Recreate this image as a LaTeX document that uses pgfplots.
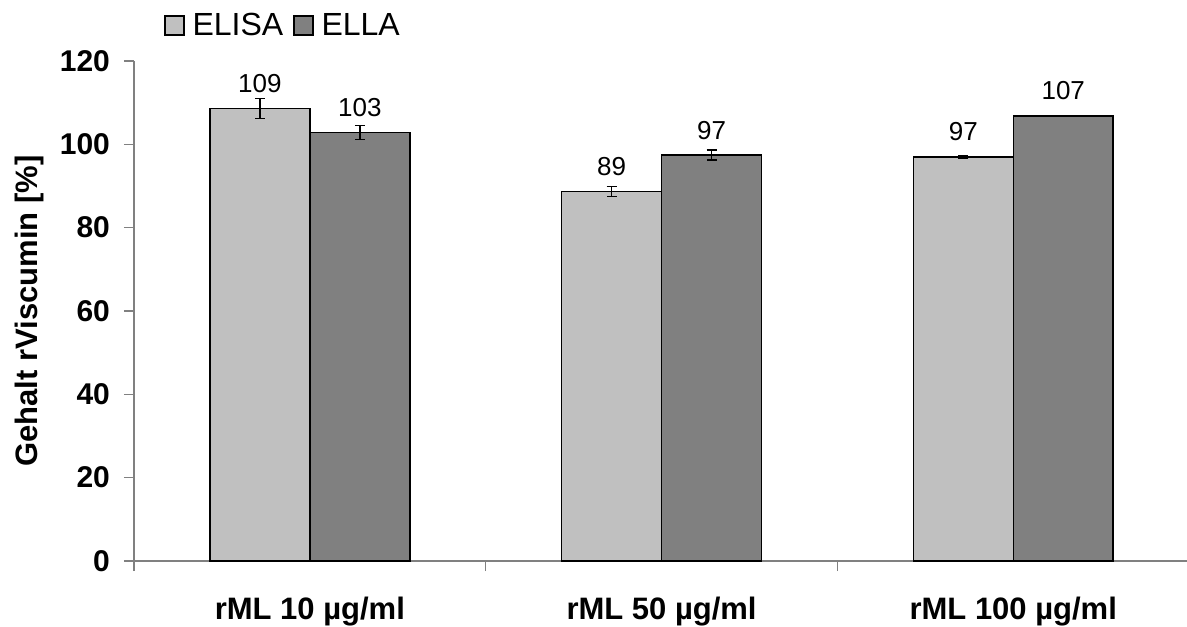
\documentclass[border=0pt]{standalone}
\usepackage{pgfplots}
\pgfplotsset{compat=1.18}
\usepackage{fontspec}
\setmainfont{Liberation Sans}
\definecolor{elisa}{HTML}{C0C0C0}
\definecolor{ella}{HTML}{808080}
\definecolor{axgray}{HTML}{808080}
\begin{document}
\begin{tikzpicture}
\begin{axis}[
  name=ax,
  scale only axis,
  width=526.5pt, height=250pt,
  xmin=-0.5, xmax=2.494,
  ymin=0, ymax=120,
  ybar, bar width=0.2843,
  axis lines=left,
  axis line style={-, draw=axgray, line width=0.6pt},
  tick style={draw=axgray, line width=0.6pt},
  tick align=outside,
  major tick length=5pt,
  ytick={0,20,...,120},
  xtick={-0.5,0.5,1.5},
  xticklabels={,,},
  extra x ticks={0,1,2},
  extra x tick labels={rML 10 µg/ml, rML 50 µg/ml, rML 100 µg/ml},
  extra x tick style={major tick length=0pt, xticklabel style={anchor=base, yshift=-29pt}},
  /pgf/number format/assume math mode=true,
  ticklabel style={font=\bfseries\fontsize{15}{18}\selectfont},
  yticklabel style={xshift=-3.5pt},
  xticklabel style={font=\bfseries\fontsize{15.5}{18}\selectfont},
  ylabel={Gehalt rViscumin [\%]},
  ylabel style={font=\bfseries\fontsize{15.5}{18}\selectfont, at={(axis description cs:-0.0997,0.5)}, anchor=center},
  nodes near coords={\pgfmathprintnumber[fixed,precision=0,assume math mode=true]{\pgfplotspointmeta}},
  every node near coord/.append style={font=\fontsize{13}{15}\selectfont, black, yshift=4.2pt},
  legend style={at={(rel axis cs:0.0285,1.071)}, anchor=west, draw=none, fill=none, legend columns=2,
    font=\fontsize{16}{18}\selectfont, inner sep=0pt,
    /tikz/every odd column/.append style={column sep=2pt},
    /tikz/every even column/.append style={column sep=3pt}},
  legend image code/.code={\draw[#1, line width=0.6pt] (0pt,-4.75pt) rectangle (9.5pt,4.75pt);},
]
\addplot[fill=elisa, draw=black, line width=0.75pt, bar shift=0pt,
  error bars/.cd, y dir=both, y explicit,
  error bar style={black, line width=0.75pt},
  error mark options={black, rotate=90, mark size=2.5pt, line width=0.75pt}]
  coordinates {(-0.1421,108.6) +- (0,2.4) (0.8579,88.7) +- (0,1.2) (1.8579,97.0) +- (0,0.3)};
\addplot[fill=ella, draw=black, line width=0.75pt, bar shift=0pt,
  error bars/.cd, y dir=both, y explicit,
  error bar style={black, line width=0.75pt},
  error mark options={black, rotate=90, mark size=2.5pt, line width=0.75pt}]
  coordinates {(0.1421,102.8) +- (0,1.7) (1.1421,97.4) +- (0,1.2) (2.1421,106.8) +- (0,0.1)};
\legend{ELISA,ELLA}
\end{axis}
\pgfresetboundingbox
\path[use as bounding box] ([shift={(-67pt,-32.5pt)}]ax.south west) rectangle ([shift={(526.5pt,280.5pt)}]ax.south west);
\end{tikzpicture}
\end{document}
